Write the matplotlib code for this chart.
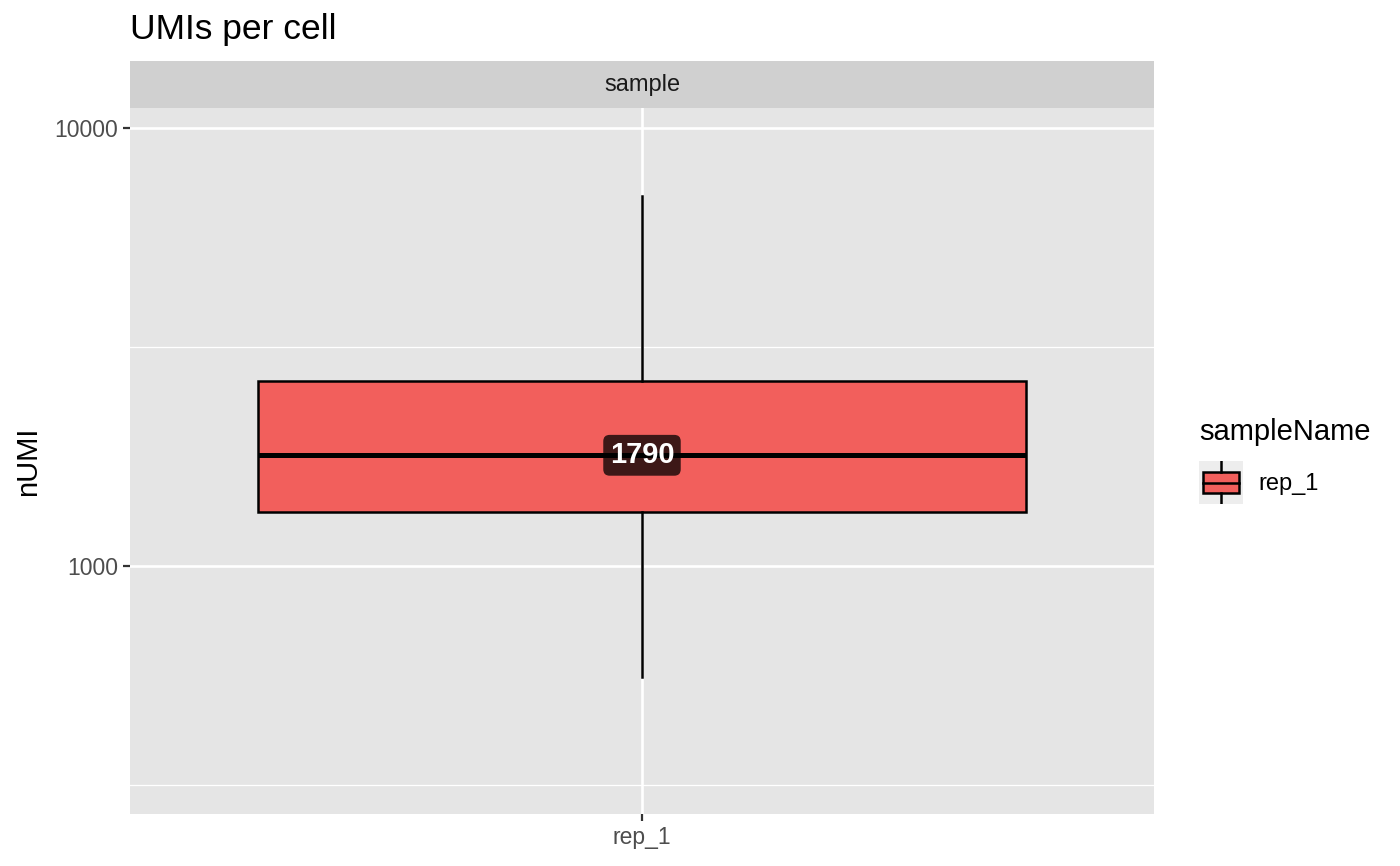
import matplotlib.pyplot as plt
from matplotlib.patches import Rectangle

plt.rcParams['font.family'] = ['Liberation Sans', 'DejaVu Sans']

# box statistics (log scale)
samples = ['rep_1']
q1 = [1328]
median = [1790]
q3 = [2645]
whisker_lo = [558]
whisker_hi = [6995]
median_labels = ['1790']

fill = '#F25F5C'
W, H = 1400, 866

fig = plt.figure(figsize=(14, 8.66), dpi=100)

# panel
ax = fig.add_axes([130 / W, 1 - 814 / H, 1024 / W, (814 - 108) / H])
ax.set_facecolor('#E5E5E5')
ax.set_yscale('log')
ax.set_ylim(271.6, 11110)
ax.set_xlim(0.4, len(samples) + 0.6)

pos = list(range(1, len(samples) + 1))
stats = []
for i, s in enumerate(samples):
    stats.append({'label': s, 'q1': q1[i], 'med': median[i], 'q3': q3[i],
                  'whislo': whisker_lo[i], 'whishi': whisker_hi[i], 'fliers': []})
ax.bxp(stats, positions=pos, widths=0.9, patch_artist=True, showcaps=False,
       showfliers=False,
       boxprops=dict(facecolor=fill, edgecolor='black', linewidth=1.8),
       medianprops=dict(color='black', linewidth=3.6),
       whiskerprops=dict(color='black', linewidth=1.8), zorder=3)

for p, m, lab in zip(pos, median, median_labels):
    ax.text(p, m, lab, ha='center', va='center', fontsize=21, fontweight='bold',
            color='white', zorder=5,
            bbox=dict(boxstyle='round,pad=0.22,rounding_size=0.22',
                      facecolor='black', edgecolor='none', alpha=0.75))

ax.set_yticks([1000, 10000])
ax.set_yticklabels(['1000', '10000'])
ax.set_yticks([316.2, 3162.3], minor=True)
ax.yaxis.set_minor_formatter(plt.NullFormatter())
ax.set_xticks(pos)
ax.set_xticklabels(samples)
ax.grid(True, which='major', color='white', linewidth=1.9, zorder=0)
ax.grid(True, which='minor', axis='y', color='white', linewidth=0.9, zorder=0)
ax.set_axisbelow(True)
ax.tick_params(which='major', length=5, width=1.6, color='#333333',
               labelcolor='#4D4D4D', labelsize=16.5, pad=3.5)
ax.tick_params(which='minor', length=0)
for sp in ax.spines.values():
    sp.set_visible(False)
ax.set_ylabel('nUMI', fontsize=21, labelpad=9)

# facet strip
sax = fig.add_axes([130 / W, 1 - 108 / H, 1024 / W, (108 - 61) / H])
sax.set_facecolor('#D0D0D0')
sax.set_xticks([])
sax.set_yticks([])
for sp in sax.spines.values():
    sp.set_visible(False)
sax.text(0.5, 0.5, 'sample', ha='center', va='center', fontsize=17,
         color='#1A1A1A', transform=sax.transAxes)

fig.text(130 / W, 1 - 29 / H, 'UMIs per cell', fontsize=25.5, va='center', ha='left')

# legend
fig.text(1199 / W, 1 - 432 / H, 'sampleName', fontsize=21, va='center', ha='left')
kax = fig.add_axes([1199 / W, 1 - 504 / H, 44 / W, 43 / H])
kax.set_facecolor('#EDEDED')
kax.set_xlim(0, 1)
kax.set_ylim(0, 1)
kax.set_xticks([])
kax.set_yticks([])
for sp in kax.spines.values():
    sp.set_visible(False)
kax.plot([0.5, 0.5], [0.0, 0.25], color='black', linewidth=1.8)
kax.plot([0.5, 0.5], [0.75, 1.0], color='black', linewidth=1.8)
kax.add_patch(Rectangle((0.08, 0.25), 0.84, 0.5, facecolor=fill,
                        edgecolor='black', linewidth=1.8))
kax.plot([0.08, 0.92], [0.5, 0.5], color='black', linewidth=1.8)
fig.text(1258 / W, 1 - 484 / H, samples[0], fontsize=17, va='center', ha='left')

fig.savefig('out.png', dpi=100)
